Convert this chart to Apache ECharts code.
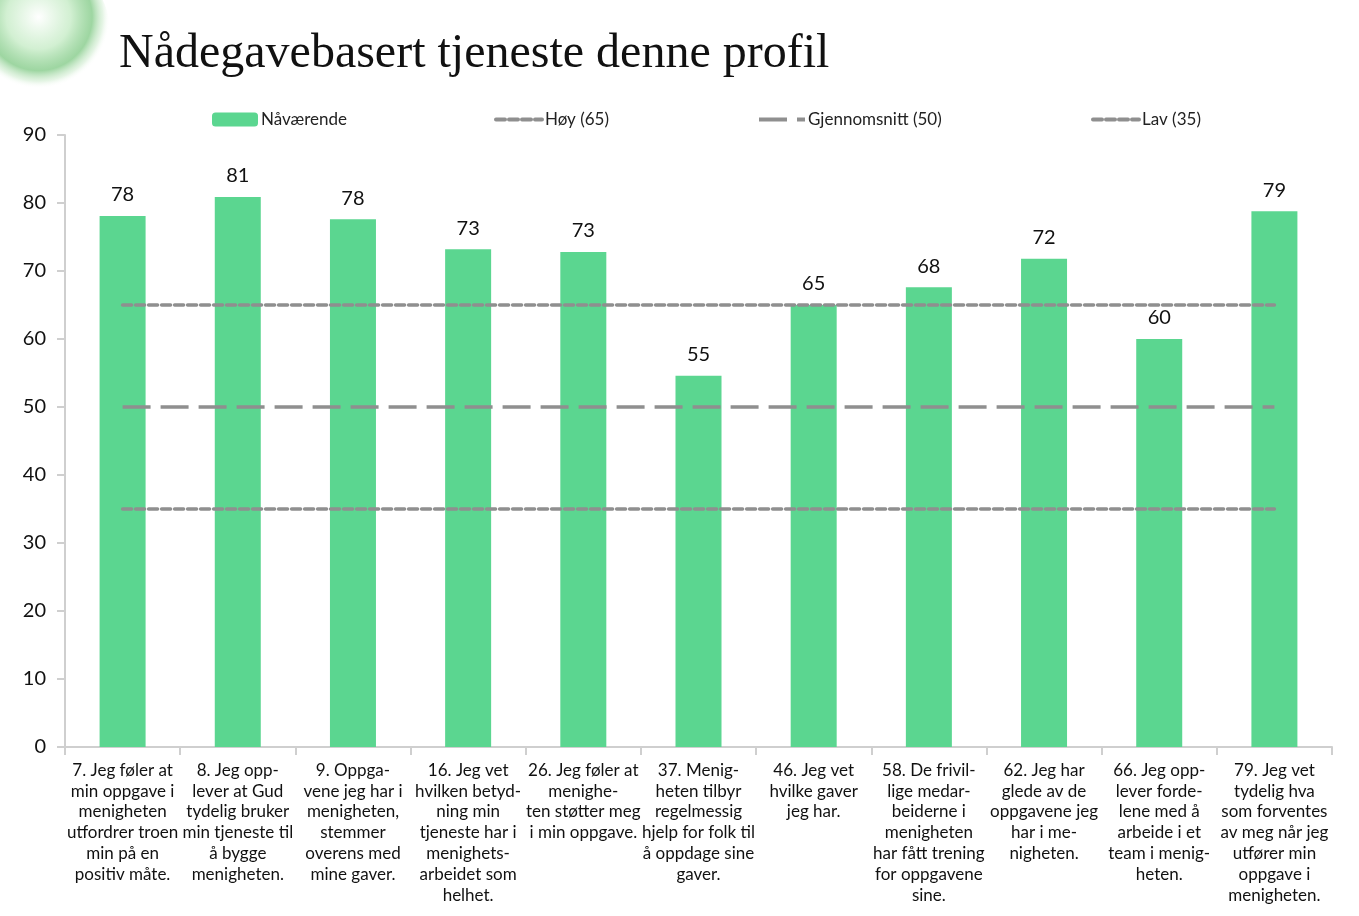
<!DOCTYPE html>
<html>
<head>
<meta charset="utf-8">
<script src="https://cdn.jsdelivr.net/npm/echarts@6/dist/echarts.min.js"></script>
<style>
html,body{margin:0;padding:0;background:#fff;}
#chart{width:1359px;height:916px;}
</style>
</head>
<body>
<div id="chart"></div>
<script>
const title = "Nådegavebasert tjeneste denne profil";
const categories = [
  "7. Jeg føler at\nmin oppgave i\nmenigheten\nutfordrer troen\nmin på en\npositiv måte.",
  "8. Jeg opp-\nlever at Gud\ntydelig bruker\nmin tjeneste til\nå bygge\nmenigheten.",
  "9. Oppga-\nvene jeg har i\nmenigheten,\nstemmer\noverens med\nmine gaver.",
  "16. Jeg vet\nhvilken betyd-\nning min\ntjeneste har i\nmenighets-\narbeidet som\nhelhet.",
  "26. Jeg føler at\nmenighe-\nten støtter meg\ni min oppgave.",
  "37. Menig-\nheten tilbyr\nregelmessig\nhjelp for folk til\nå oppdage sine\ngaver.",
  "46. Jeg vet\nhvilke gaver\njeg har.",
  "58. De frivil-\nlige medar-\nbeiderne i\nmenigheten\nhar fått trening\nfor oppgavene\nsine.",
  "62. Jeg har\nglede av de\noppgavene jeg\nhar i me-\nnigheten.",
  "66. Jeg opp-\nlever forde-\nlene med å\narbeide i et\nteam i menig-\nheten.",
  "79. Jeg vet\ntydelig hva\nsom forventes\nav meg når jeg\nutfører min\noppgave i\nmenigheten."
];
const currentValues = [78.1, 80.9, 77.6, 73.2, 72.8, 54.6, 65.0, 67.6, 71.8, 60.0, 78.8];
const highValues = [65, 65, 65, 65, 65, 65, 65, 65, 65, 65, 65];
const averageValues = [50, 50, 50, 50, 50, 50, 50, 50, 50, 50, 50];
const lowValues = [35, 35, 35, 35, 35, 35, 35, 35, 35, 35, 35];
const seriesNames = ["Nåværende", "Høy (65)", "Gjennomsnitt (50)", "Lav (35)"];

const chart = echarts.init(document.getElementById('chart'), null, {renderer: 'canvas'});
const FONT = "Lato";
const lineColor = '#8f8f8f';
function legendAt(left, name, isLine) {
  const l = {
    left: left, top: 106, itemWidth: 46, itemHeight: 14, itemGap: 4,
    textStyle: {fontFamily: FONT, fontSize: 17, color: '#222', padding: [0,0,0,-2]},
    selectedMode: false, data: [name]
  };
  if (isLine) {
    l.itemStyle = {opacity: 0, color: 'transparent', borderWidth: 0};
    l.lineStyle = {width: 4};
  }
  return l;
}
chart.setOption({
  animation: false,
  backgroundColor: '#fff',
  title: {
    text: title, left: 114, top: 25,
    textStyle: {fontFamily: "Liberation Serif", fontSize: 48, fontWeight: 'normal', color: '#111'}
  },
  graphic: [{
    type: 'circle', shape: {cx: 45, cy: 30, r: 65}, z: -1,
    style: {
      fill: {
        type: 'radial', x: 0.45, y: 0.4, r: 0.55,
        colorStops: [
          {offset: 0, color: 'rgba(255,255,255,1)'},
          {offset: 0.45, color: 'rgba(205,238,205,0.9)'},
          {offset: 0.75, color: 'rgba(125,200,130,0.75)'},
          {offset: 0.9, color: 'rgba(180,225,180,0.35)'},
          {offset: 1, color: 'rgba(255,255,255,0)'}
        ]
      }
    }
  }],
  legend: [
    legendAt(207, seriesNames[0], false),
    legendAt(489, seriesNames[1], true),
    legendAt(752, seriesNames[2], true),
    legendAt(1086, seriesNames[3], true)
  ],
  grid: {left: 65, right: 27, top: 135, bottom: 169, containLabel: false},
  xAxis: {
    type: 'category', data: categories, boundaryGap: true,
    axisLine: {lineStyle: {color: '#cfcfcf', width: 2}},
    axisTick: {show: true, length: 8, interval: 0, lineStyle: {color: '#cfcfcf', width: 2}},
    axisLabel: {
      interval: 0, margin: 13, color: '#111', fontFamily: FONT, fontSize: 17, lineHeight: 20.8,
      align: 'center', verticalAlign: 'top'
    }
  },
  yAxis: {
    type: 'value', min: 0, max: 90, interval: 10,
    splitLine: {show: false},
    axisLine: {show: true, lineStyle: {color: '#cfcfcf', width: 2}},
    axisTick: {show: true, length: 8, lineStyle: {color: '#cfcfcf', width: 2}},
    axisLabel: {color: '#111', fontFamily: FONT, fontSize: 20, margin: 19}
  },
  series: [
    {
      name: seriesNames[0], type: 'bar', data: currentValues, barWidth: 46,
      itemStyle: {color: '#5bd690'},
      label: {
        show: true, position: 'top', distance: 11, color: '#111', fontFamily: FONT, fontSize: 20,
        formatter: p => Math.round(p.value)
      },
      z: 1
    },
    {
      name: seriesNames[1], type: 'line', data: highValues, symbol: 'none',
      lineStyle: {color: lineColor, width: 3.5, type: [9, 4], cap: 'round'},
      itemStyle: {color: lineColor}, z: 3
    },
    {
      name: seriesNames[2], type: 'line', data: averageValues, symbol: 'none',
      lineStyle: {color: lineColor, width: 3.5, type: [28, 10]},
      itemStyle: {color: lineColor}, z: 3
    },
    {
      name: seriesNames[3], type: 'line', data: lowValues, symbol: 'none',
      lineStyle: {color: lineColor, width: 3.5, type: [9, 4], cap: 'round'},
      itemStyle: {color: lineColor}, z: 3
    }
  ]
});
</script>
</body>
</html>
